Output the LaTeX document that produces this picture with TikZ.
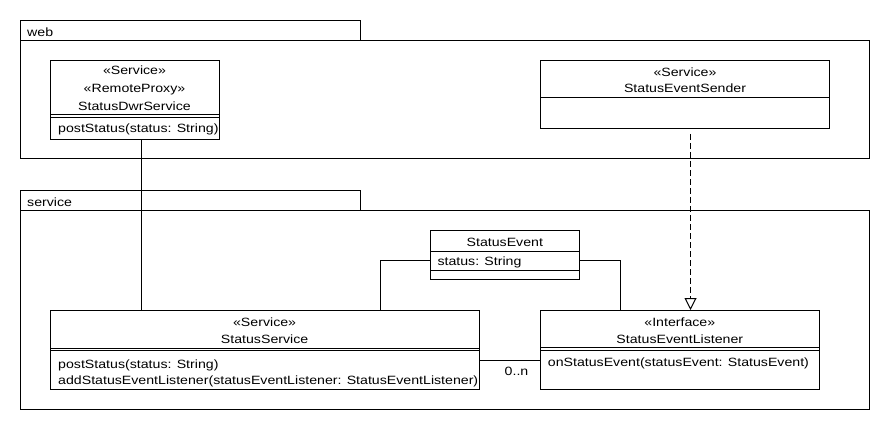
\documentclass[tikz,border=0pt]{standalone}
\usepackage{fontspec}
\setmainfont{Liberation Sans}[FakeStretch=1.18]
\usetikzlibrary{arrows.meta}
\tikzset{
  box/.style={draw, line width=1pt, inner sep=0pt, outer sep=0pt, anchor=north west, fill=white},
  txt/.style={inner sep=0pt, anchor=base, font=\fontsize{12}{14}\selectfont},
  ltxt/.style={txt, anchor=base west},
  conn/.style={line width=1pt},
  realize/.style={line width=1pt, dash pattern=on 6pt off 3pt, -{Triangle[open, width=12pt, length=12pt, line width=1pt]}},
}
\begin{document}
\begin{tikzpicture}[x=1pt,y=-1pt]
\useasboundingbox (0,0) rectangle (890,430);
% packages
\node[box, minimum width=340.5pt, minimum height=20pt] (webtab) at (20,20.3) {};
\node[box, minimum width=849.3pt, minimum height=118.7pt] (webbody) at (20,40.3) {};
\node[ltxt] (webl) at (27,36.5) {web};
\node[box, minimum width=340.5pt, minimum height=20pt] (svctab) at (20,190.3) {};
\node[box, minimum width=849.3pt, minimum height=199pt] (svcbody) at (20,210.3) {};
\node[ltxt] (svcl) at (27,206.5) {service};
% StatusDwrService
\node[box, minimum width=169.5pt, minimum height=79pt] (dwr) at (50,60.5) {};
\draw[conn] ([yshift=-54.2pt]dwr.north west) -- ([yshift=-54.2pt]dwr.north east);
\draw[conn] ([yshift=-56.6pt]dwr.north west) -- ([yshift=-56.6pt]dwr.north east);
\node[txt] (dwr1) at (134.5,75) {«Service»};
\node[txt] (dwr2) at (134.5,92.7) {«RemoteProxy»};
\node[txt] (dwr3) at (134.5,110.5) {StatusDwrService};
\node[ltxt] (dwr4) at (58,132.5) {postStatus(status: String)};
% StatusEventSender
\node[box, minimum width=289pt, minimum height=68.7pt] (send) at (540.5,60.3) {};
\draw[conn] ([yshift=-37pt]send.north west) -- ([yshift=-37pt]send.north east);
\node[txt] (send1) at (685,76.7) {«Service»};
\node[txt] (send2) at (685,92.7) {StatusEventSender};
% StatusEvent
\node[box, minimum width=149pt, minimum height=49pt] (sevt) at (430.3,230.3) {};
\draw[conn] ([yshift=-21pt]sevt.north west) -- ([yshift=-21pt]sevt.north east);
\draw[conn] ([yshift=-40.4pt]sevt.north west) -- ([yshift=-40.4pt]sevt.north east);
\node[txt] (sevt1) at (504.8,246.7) {StatusEvent};
\node[ltxt] (sevt2) at (437.3,265.7) {status: String};
% StatusService
\node[box, minimum width=429.3pt, minimum height=79.3pt] (ss) at (50,310) {};
\draw[conn] ([yshift=-38.2pt]ss.north west) -- ([yshift=-38.2pt]ss.north east);
\draw[conn] ([yshift=-40.6pt]ss.north west) -- ([yshift=-40.6pt]ss.north east);
\node[txt] (ss1) at (264.6,326.5) {«Service»};
\node[txt] (ss2) at (264.6,343.3) {StatusService};
\node[ltxt] (ss3) at (58,368.3) {postStatus(status: String)};
\node[ltxt] (ss4) at (58,384) {addStatusEventListener(statusEventListener: StatusEventListener)};
% StatusEventListener
\node[box, minimum width=279pt, minimum height=79.3pt] (sel) at (540.3,310) {};
\draw[conn] ([yshift=-37.6pt]sel.north west) -- ([yshift=-37.6pt]sel.north east);
\draw[conn] ([yshift=-40pt]sel.north west) -- ([yshift=-40pt]sel.north east);
\node[txt] (sel1) at (679.8,326) {«Interface»};
\node[txt] (sel2) at (679.8,343.3) {StatusEventListener};
\node[ltxt] (sel3) at (547.7,366.7) {onStatusEvent(statusEvent: StatusEvent)};
% connectors
\draw[conn] ([xshift=6.5pt]dwr.south) -- ([xshift=6.5pt]dwr.south |- ss.north);
\draw[realize] ([xshift=5.5pt,yshift=-5pt]send.south) -- ([xshift=5.5pt]send.south |- sel.north);
\draw[conn] ([yshift=-6pt]sevt.west) -| ([xshift=116.2pt]ss.north);
\draw[conn] ([yshift=-6pt]sevt.east) -| ([xshift=-59.5pt]sel.north);
\draw[conn] ([yshift=-10.6pt]ss.east) -- ([yshift=-10.6pt]ss.east -| sel.west) coordinate (assocend);
\node[txt] (mult) at (516.5,375.5) {0..n};
\end{tikzpicture}
\end{document}
